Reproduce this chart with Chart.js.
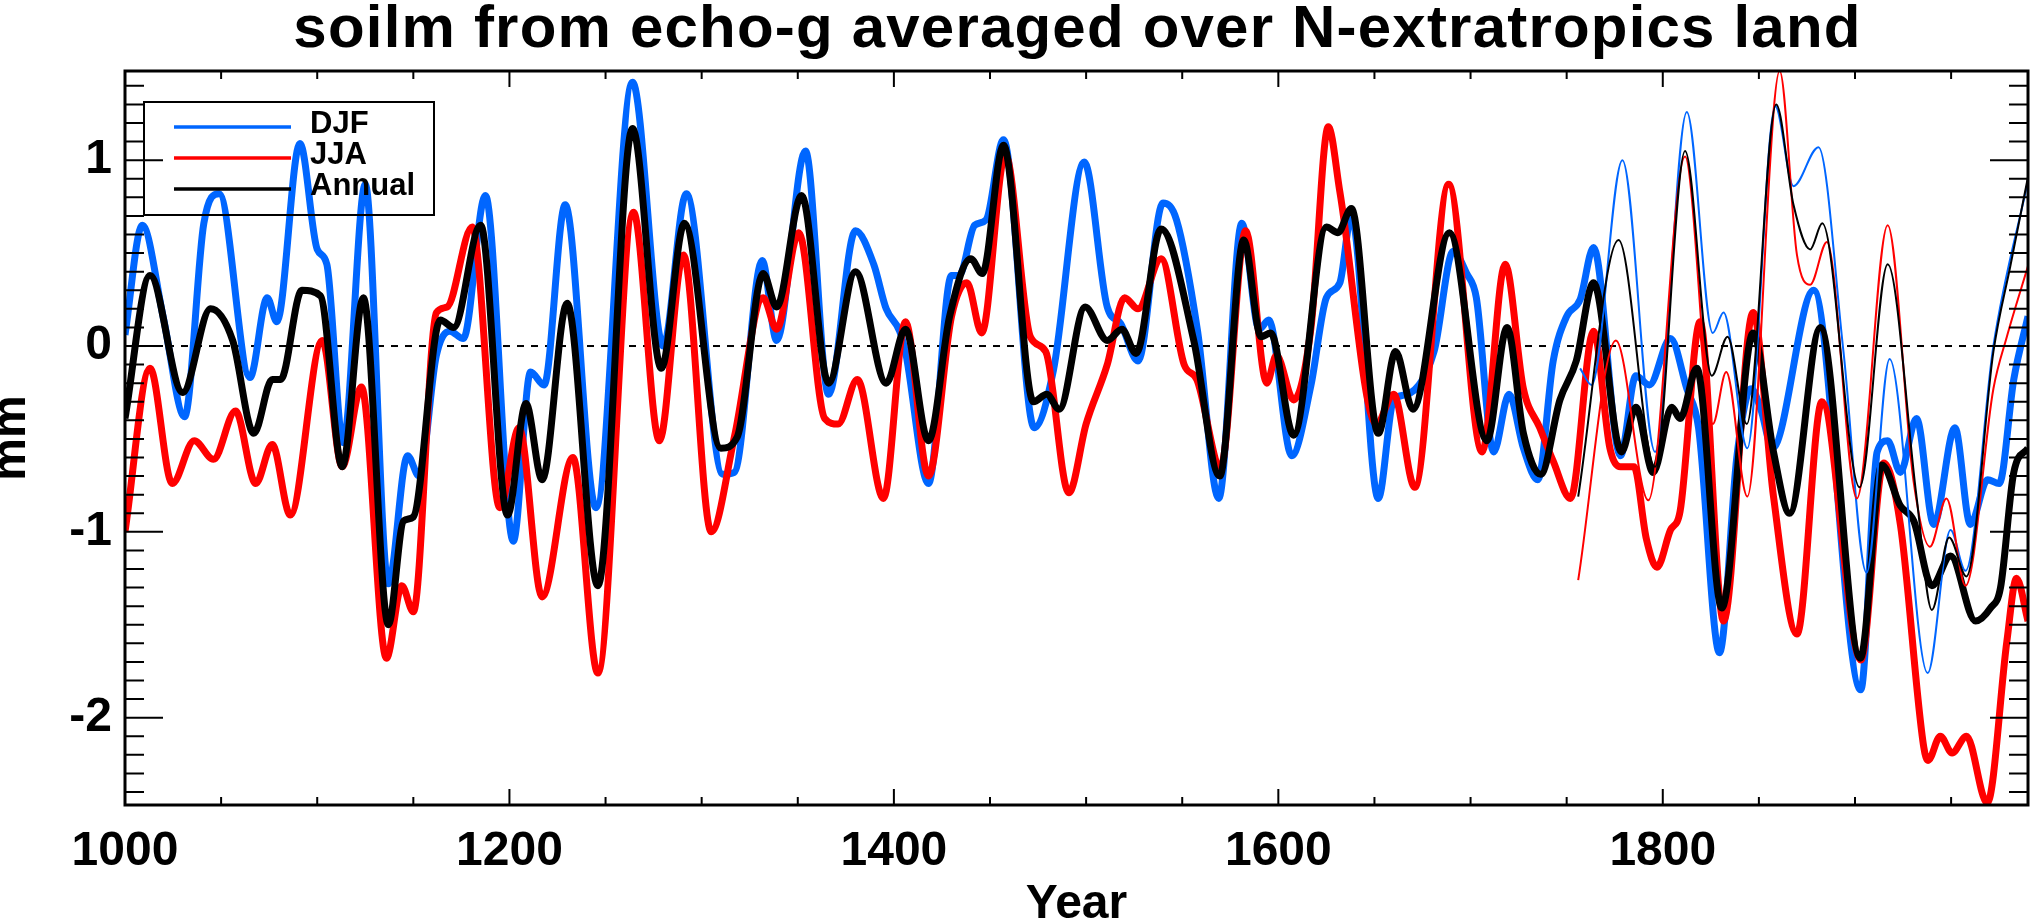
<!DOCTYPE html>
<html>
<head>
<meta charset="utf-8">
<script src="https://cdn.jsdelivr.net/npm/chart.js@4.4.1/dist/chart.umd.min.js"></script>
<style>
  html, body { margin: 0; padding: 0; background: #fff; }
  #plot { display: block; }
</style>
</head>
<body>
<canvas id="plot" width="2031" height="923"></canvas>
<script>
// values (mm anomaly), 1000-1990
const djfYears = [1000,1009,1020,1031,1041,1049,1065,1074,1079,1091,1100,1105,1113.5,1125,1137,1147,1153,1162,1169,1176,1187.5,
  1202,1211,1218,1229,1245,1264,1280,1292,1311,1317,1331.5,1339,1354,1366,1380,1389.5,1396,1403,1406,1418,1430,1434,1442,1448,
  1457,1473,1483,1499,1511,1518,1527,1540,1547,1558,1569,1581,1590,1595,1607,1617,1625,1632,1638,1652,1660,1667,1681,1691,1698,
  1703,1712,1720,1727.5,1735,1743,1750,1757,1764,1778,1786,1793,1804,1812.5,1818.6,1829.5,1838.5,1844,1846,1851,1857,1878.5,
  1903,1911.5,1917,1923.6,1932,1941,1952,1960,1969,1975,1982.6,1990];
const djfValues = [0.06,0.65,0.15,-0.38,0.66,0.82,-0.17,0.26,0.13,1.09,0.52,0.44,-0.52,0.87,-1.28,-0.59,-0.70,-0.05,0.08,0.04,0.81,
  -1.05,-0.14,-0.21,0.76,-0.87,1.42,0.0,0.82,-0.69,-0.68,0.46,0.03,1.05,-0.26,0.62,0.44,0.20,0.08,-0.03,-0.74,0.38,0.38,0.65,0.68,
  1.11,-0.44,-0.13,0.99,0.21,0.12,-0.08,0.77,0.68,0.08,-0.82,0.66,0.09,0.14,-0.59,-0.21,0.26,0.34,0.70,-0.82,-0.29,-0.26,-0.03,0.51,0.39,
  0.26,-0.57,-0.26,-0.55,-0.72,-0.08,0.16,0.25,0.53,-0.59,-0.16,-0.21,0.04,-0.23,-0.44,-1.65,-0.60,-0.26,-0.23,-0.34,-0.55,0.30,
  -1.85,-0.57,-0.51,-0.68,-0.39,-0.96,-0.44,-0.96,-0.72,-0.74,-0.18,0.16];

const jjaYears = [1000,1013,1024.6,1036,1046,1057.5,1068,1076.6,1086,1102.6,1113,1123,1136,1144,1150,1162,1167.6,1180.6,1195,
  1205,1217,1233,1246,1264.5,1278,1290.5,1305,1317,1332,1339,1350.5,1364,1371,1381,1394.6,1406,1418,1430,1438,1445.7,1458,1471,
  1479,1491,1500,1511,1520,1527,1539,1551,1557.6,1570,1583,1594,1599,1608,1617,1626,1632,1651,1660,1671,1688.6,1706,1718,1727.5,
  1736,1743,1752,1764,1772.5,1778,1785,1791.5,1797,1804,1809,1819.4,1831.6,1847,1857.6,1869.8,1882.8,1903,1915,1923.6,1935.8,
  1938,1944.4,1950.5,1958,1968.8,1979,1984,1990];
const jjaValues = [-1.0,-0.12,-0.74,-0.51,-0.61,-0.35,-0.74,-0.53,-0.91,0.03,-0.65,-0.22,-1.68,-1.29,-1.43,0.18,0.21,0.64,-0.87,
  -0.44,-1.35,-0.60,-1.76,0.72,-0.51,0.49,-1.0,-0.49,0.26,0.09,0.61,-0.39,-0.42,-0.18,-0.82,0.13,-0.70,0.16,0.34,0.07,1.03,0.05,
  -0.03,-0.79,-0.42,-0.10,0.26,0.20,0.47,-0.10,-0.18,-0.65,0.62,-0.20,-0.05,-0.29,0.10,1.18,0.83,-0.42,-0.26,-0.76,0.87,-0.57,0.44,-0.23,
  -0.44,-0.62,-0.82,0.08,-0.55,-0.65,-0.65,-1.04,-1.19,-0.99,-0.89,0.13,-1.48,0.18,-0.81,-1.55,-0.30,-1.69,-0.63,-0.96,-2.16,
  -2.23,-2.10,-2.19,-2.10,-2.46,-1.59,-1.25,-1.48];

const annYears = [1000,1013,1030,1044.5,1056,1067,1076.6,1081,1092,1101.7,1113,1124,1137,1145,1150,1164,1171,1185,1199,1208.6,
  1217,1230,1246,1264,1279,1291,1310,1318.5,1332,1339,1352,1366,1380,1396,1406,1418,1429,1440,1446,1457,1472.6,1479.5,1486,
  1499.5,1511,1518.6,1526,1539,1556,1569.5,1582,1591,1596,1608,1625,1631,1638,1652,1661,1670,1689,1708.5,1719,1727.5,1736.5,
  1746.5,1755,1764,1778.5,1786,1795,1804.7,1809,1817.7,1830.7,1847,1857.6,1866,1882,1902.8,1914,1923.6,1930.5,1940,1949.7,
  1962.7,1970.5,1975.7,1982.6,1990];
const annValues = [-0.39,0.38,-0.25,0.20,0.03,-0.47,-0.18,-0.18,0.30,0.27,-0.65,0.26,-1.50,-0.94,-0.92,0.14,0.10,0.65,-0.91,-0.31,
  -0.72,0.23,-1.29,1.17,-0.12,0.66,-0.55,-0.49,0.39,0.21,0.81,-0.20,0.40,-0.20,0.09,-0.51,0.16,0.47,0.39,1.08,-0.30,-0.26,-0.34,
  0.21,0.03,0.09,-0.04,0.63,0.03,-0.70,0.57,0.05,0.07,-0.48,0.64,0.61,0.74,-0.47,-0.03,-0.34,0.61,-0.51,0.10,-0.47,-0.69,
  -0.29,-0.08,0.34,-0.57,-0.33,-0.68,-0.33,-0.39,-0.12,-1.41,0.07,-0.57,-0.90,0.10,-1.68,-0.64,-0.86,-0.94,-1.29,-1.13,
  -1.48,-1.41,-1.30,-0.68,-0.55];

// second (thin) set of curves, from about 1756
const djf2Years = [1757,1763,1779,1796,1812.5,1826,1831.6,1844,1858.5,1868,1881,1894,1906,1918,1937.8,1949.7,1957.5,1972,1990];
const djf2Values = [-0.12,-0.21,1.00,-0.57,1.26,0.07,0.18,-0.55,1.29,0.86,1.07,-0.03,-1.22,-0.07,-1.76,-0.99,-1.21,0.0,0.89];
const jja2Years = [1756,1775.6,1792.5,1811.6,1826,1833,1844,1860.8,1869.8,1876.7,1885.4,1901,1917,1930.5,1939,1947.6,1957.5,1972,1979,1990];
const jja2Values = [-1.26,0.03,-0.83,1.02,-0.42,-0.14,-0.81,1.48,0.49,0.33,0.56,-0.82,0.65,-0.73,-1.08,-0.82,-1.29,-0.23,0.05,0.43];
const ann2Years = [1756,1777,1796,1811.6,1825.5,1833.7,1843.7,1859,1868,1876.7,1883,1902.4,1917,1932,1940,1949,1958,1972,1981,1990];
const ann2Values = [-0.81,0.57,-0.65,1.05,-0.16,0.05,-0.42,1.30,0.76,0.52,0.66,-0.76,0.44,-0.81,-1.42,-1.03,-1.24,-0.03,0.44,0.91];

const xMajorTicks = [1000, 1200, 1400, 1600, 1800];
const yMajorTicks = [-2, -1, 0, 1];
const legendLabels = ['DJF', 'JJA', 'Annual'];
const titleText = 'soilm from echo-g averaged over N-extratropics land';

const BLUE = 'rgb(0,102,255)';
const RED = 'rgb(255,0,0)';
const BLACK = 'rgb(0,0,0)';
const FONT = 'Liberation Sans, Arial, Helvetica, sans-serif';

function pairs(xs, ys) {
  return xs.map((x, i) => ({ x: x, y: ys[i] }));
}

function series(xs, ys, color, width, order) {
  return {
    data: pairs(xs, ys),
    borderColor: color,
    borderWidth: width,
    pointRadius: 0,
    fill: false,
    cubicInterpolationMode: 'monotone',
    order: order
  };
}

// box, inward ticks on all four sides, zero line, legend and title, IDL style
const idlFrame = {
  id: 'idlFrame',
  beforeDatasetsDraw(chart) {
    const { ctx, chartArea: a, scales: { y } } = chart;
    const y0 = y.getPixelForValue(0);
    ctx.save();
    ctx.strokeStyle = BLACK;
    ctx.lineWidth = 2;
    ctx.setLineDash([7, 7]);
    ctx.beginPath();
    ctx.moveTo(a.left, y0);
    ctx.lineTo(a.right, y0);
    ctx.stroke();
    ctx.restore();
  },
  afterDatasetsDraw(chart) {
    const { ctx, chartArea: a, scales: { x, y } } = chart;
    ctx.save();
    ctx.strokeStyle = BLACK;
    ctx.lineWidth = 3;
    ctx.strokeRect(a.left, a.top, a.right - a.left, a.bottom - a.top);

    ctx.lineWidth = 2;
    ctx.beginPath();
    for (let yr = x.min; yr <= x.max; yr += 50) {
      const px = x.getPixelForValue(yr);
      const len = xMajorTicks.includes(yr) ? 16 : 8;
      ctx.moveTo(px, a.bottom); ctx.lineTo(px, a.bottom - len);
      ctx.moveTo(px, a.top); ctx.lineTo(px, a.top + len);
    }
    for (let k = -24; k <= 14; k++) {
      const v = k / 10;
      if (v < y.min || v > y.max) continue;
      const py = y.getPixelForValue(v);
      const len = k % 10 === 0 ? 38 : 19;
      ctx.moveTo(a.left, py); ctx.lineTo(a.left + len, py);
      ctx.moveTo(a.right, py); ctx.lineTo(a.right - len, py);
    }
    ctx.stroke();

    // legend
    const colors = [BLUE, RED, BLACK];
    ctx.lineWidth = 2;
    ctx.strokeRect(144, 102, 290, 113);
    ctx.font = 'bold 31px ' + FONT;
    ctx.textBaseline = 'alphabetic';
    ctx.textAlign = 'left';
    legendLabels.forEach((lab, i) => {
      const ly = 127 + i * 31;
      ctx.strokeStyle = colors[i];
      ctx.lineWidth = 3.5;
      ctx.beginPath();
      ctx.moveTo(174, ly);
      ctx.lineTo(291, ly);
      ctx.stroke();
      ctx.fillStyle = BLACK;
      ctx.fillText(lab, 310, ly + 6);
    });

    // title, slightly letter-spaced like the original
    ctx.font = 'bold 60px ' + FONT;
    ctx.letterSpacing = '1.2px';
    ctx.textAlign = 'center';
    ctx.fillText(titleText, (a.left + a.right) / 2 + 1, 47);
    ctx.restore();
  }
};

new Chart(document.getElementById('plot'), {
  type: 'line',
  data: {
    datasets: [
      series(djfYears, djfValues, BLUE, 7, 6),
      series(jjaYears, jjaValues, RED, 7, 5),
      series(annYears, annValues, BLACK, 7, 4),
      series(djf2Years, djf2Values, BLUE, 2, 3),
      series(jja2Years, jja2Values, RED, 2, 2),
      series(ann2Years, ann2Values, BLACK, 2, 1)
    ]
  },
  options: {
    responsive: false,
    animation: false,
    devicePixelRatio: 1,
    layout: {
      padding: { left: 0, right: 3, top: 71, bottom: 0 }
    },
    scales: {
      x: {
        type: 'linear',
        min: 1000,
        max: 1990,
        grid: { display: false, drawTicks: false },
        border: { display: false },
        afterFit: (s) => { s.height = 118; },
        afterBuildTicks: (s) => { s.ticks = xMajorTicks.map((v) => ({ value: v })); },
        ticks: {
          autoSkip: false,
          maxRotation: 0,
          padding: 18,
          color: BLACK,
          font: { family: FONT, size: 48, weight: 'bold' },
          callback: (v) => String(v)
        },
        title: {
          display: true,
          text: 'Year',
          color: BLACK,
          padding: 0,
          font: { family: FONT, size: 48, weight: 'bold', lineHeight: 0.75 }
        }
      },
      y: {
        min: -2.47,
        max: 1.48,
        grid: { display: false, drawTicks: false },
        border: { display: false },
        afterFit: (s) => { s.width = 125; },
        afterBuildTicks: (s) => { s.ticks = yMajorTicks.map((v) => ({ value: v })); },
        ticks: {
          autoSkip: false,
          padding: 13,
          color: BLACK,
          font: { family: FONT, size: 48, weight: 'bold' },
          callback: (v) => String(v)
        },
        title: {
          display: true,
          text: 'mm',
          color: BLACK,
          padding: 0,
          font: { family: FONT, size: 48, weight: 'bold', lineHeight: 0.5 }
        }
      }
    },
    plugins: {
      legend: { display: false },
      tooltip: { enabled: false },
      title: { display: false }
    }
  },
  plugins: [idlFrame]
});
</script>
</body>
</html>
